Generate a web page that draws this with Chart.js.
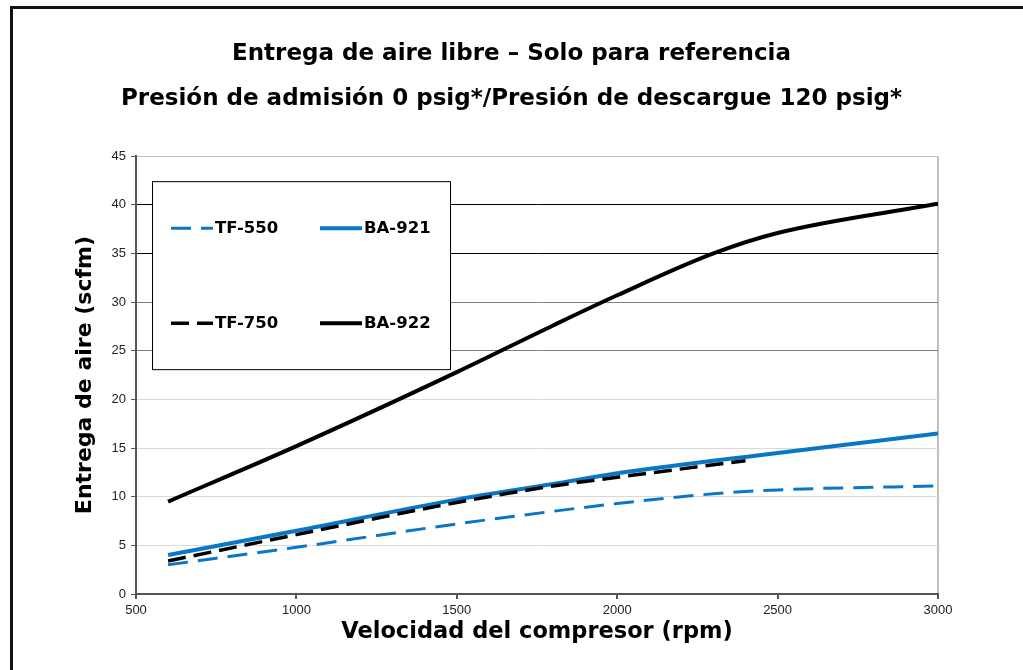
<!DOCTYPE html>
<html>
<head>
<meta charset="utf-8">
<script src="https://cdn.jsdelivr.net/npm/chart.js@4.4.1/dist/chart.umd.min.js"></script>
<style>
    html, body { margin: 0; padding: 0; background: #fff; }
    #wrap { position: absolute; left: 0; top: 0; width: 1023px; height: 670px; }
    #frame { position: absolute; left: 10px; top: 6px; right: 0; bottom: 0;
             border-top: 3px solid #111; border-left: 3px solid #111; }
</style>
</head>
<body>
<div id="frame"></div>
<div id="wrap"><canvas id="chart" width="1023" height="670"></canvas></div>
<script>
// data
var rpmTF550 = [600, 1000, 1500, 1800, 2000, 2300, 2500, 3000];
var scfmTF550 = [3.0, 4.8, 7.2, 8.5, 9.3, 10.3, 10.7, 11.1];

var rpmTF750 = [600, 1000, 1500, 1800, 2000, 2400];
var scfmTF750 = [3.4, 6.1, 9.4, 11.1, 12.0, 13.7];

var rpmBA921 = [600, 1000, 1500, 1800, 2000, 2500, 3000];
var scfmBA921 = [4.0, 6.5, 9.7, 11.3, 12.4, 14.5, 16.5];

var rpmBA922 = [600, 1000, 1500, 1800, 2000, 2300, 2500, 3000];
var scfmBA922 = [9.5, 15.2, 22.8, 27.6, 30.7, 35.0, 37.1, 40.1];

var legendOrder = ["TF-550", "BA-921", "TF-750", "BA-922"];

var blue = "#0a77c6";
var bold = '"DejaVu Sans", sans-serif';
var tickFont = {family: '"Liberation Sans", Arial, sans-serif', size: 13};

function pts(xs, ys) {
    return xs.map(function(x, i) { return {x: x, y: ys[i]}; });
}

// legend drawn as a boxed panel inside the plot
var boxLegend = {
    id: "boxLegend",
    afterDatasetsDraw: function(chart) {
        var ctx = chart.ctx, a = chart.chartArea;
        var x0 = a.left + 16, y0 = a.top + 25, w = 298, h = 188;
        ctx.save();
        ctx.fillStyle = "#fff";
        ctx.fillRect(x0, y0, w, h);
        ctx.strokeStyle = "#000";
        ctx.lineWidth = 1;
        ctx.strokeRect(x0 + 0.5, y0 + 0.5, w, h);
        legendOrder.forEach(function(label, i) {
            var ds = chart.data.datasets.filter(function(d) { return d.label === label; })[0];
            var lx = x0 + 19 + (i % 2) * 149;
            var ly = y0 + 47 + Math.floor(i / 2) * 95;
            ctx.beginPath();
            ctx.setLineDash(ds.borderDash || []);
            ctx.lineWidth = ds.borderWidth;
            ctx.strokeStyle = ds.borderColor;
            ctx.moveTo(lx, ly);
            ctx.lineTo(lx + 42, ly);
            ctx.stroke();
            ctx.setLineDash([]);
            ctx.fillStyle = "#000";
            ctx.font = "bold 16.5px " + bold;
            ctx.textBaseline = "middle";
            ctx.fillText(label, lx + 44, ly + 1);
        });
        ctx.restore();
    }
};

function yGridColor(c) {
    var v = c.tick ? c.tick.value : 0;
    if (v >= 45) return "#c0c0c0";
    if (v >= 35) return "#000";
    if (v >= 25) return "#7f7f7f";
    return "#d9d9d9";
}

new Chart(document.getElementById("chart").getContext("2d"), {
    type: "line",
    data: {
        datasets: [
            {label: "TF-550", data: pts(rpmTF550, scfmTF550), borderColor: blue, borderWidth: 3, borderDash: [20, 10]},
            {label: "TF-750", data: pts(rpmTF750, scfmTF750), borderColor: "#000", borderWidth: 3.5, borderDash: [18, 8]},
            {label: "BA-921", data: pts(rpmBA921, scfmBA921), borderColor: blue, borderWidth: 4},
            {label: "BA-922", data: pts(rpmBA922, scfmBA922), borderColor: "#000", borderWidth: 4}
        ]
    },
    options: {
        responsive: false,
        animation: false,
        devicePixelRatio: 1,
        layout: {padding: 0},
        elements: {
            point: {radius: 0, hoverRadius: 0},
            line: {cubicInterpolationMode: "monotone", fill: false}
        },
        plugins: {
            legend: {display: false},
            tooltip: {enabled: false},
            title: {
                display: true,
                text: ["Entrega de aire libre \u2013 Solo para referencia",
                       "Presi\u00f3n de admisi\u00f3n 0 psig*/Presi\u00f3n de descargue 120 psig*"],
                color: "#000",
                font: {family: bold, size: 23, weight: "bold", lineHeight: 1.96},
                padding: {top: 31, bottom: 35}
            }
        },
        scales: {
            x: {
                type: "linear",
                min: 500,
                max: 3000,
                afterFit: function(s) { s.height = 76; },
                ticks: {stepSize: 500, color: "#222", padding: 4, font: tickFont,
                        callback: function(v) { return String(v); }},
                grid: {
                    color: function(c) { return c.tick && c.tick.value === 3000 ? "#c0c0c0" : "rgba(0,0,0,0)"; },
                    lineWidth: 2,
                    tickColor: "#555",
                    tickLength: 5
                },
                border: {color: "#555", width: 2},
                title: {display: true, text: "Velocidad del compresor (rpm)", color: "#000",
                        font: {family: bold, size: 22.5, weight: "bold", lineHeight: 1.2},
                        padding: {top: 0, bottom: 24}}
            },
            y: {
                min: 0,
                max: 45,
                afterFit: function(s) { s.width = 136; },
                ticks: {stepSize: 5, color: "#222", padding: 5, font: tickFont},
                grid: {color: yGridColor, lineWidth: 1, tickColor: "#555", tickLength: 5},
                border: {color: "#555", width: 2},
                title: {display: true, text: "Entrega de aire (scfm)", color: "#000",
                        font: {family: bold, size: 22, weight: "bold", lineHeight: 1.2},
                        padding: {top: 72, bottom: 0}}
            },
            // empty right-hand spacer so the title centres over the whole canvas
            spacer: {
                position: "right",
                display: true,
                afterFit: function(s) { s.width = 85; },
                ticks: {display: false},
                grid: {display: false},
                border: {display: false}
            }
        }
    },
    plugins: [boxLegend]
});
</script>
</body>
</html>
